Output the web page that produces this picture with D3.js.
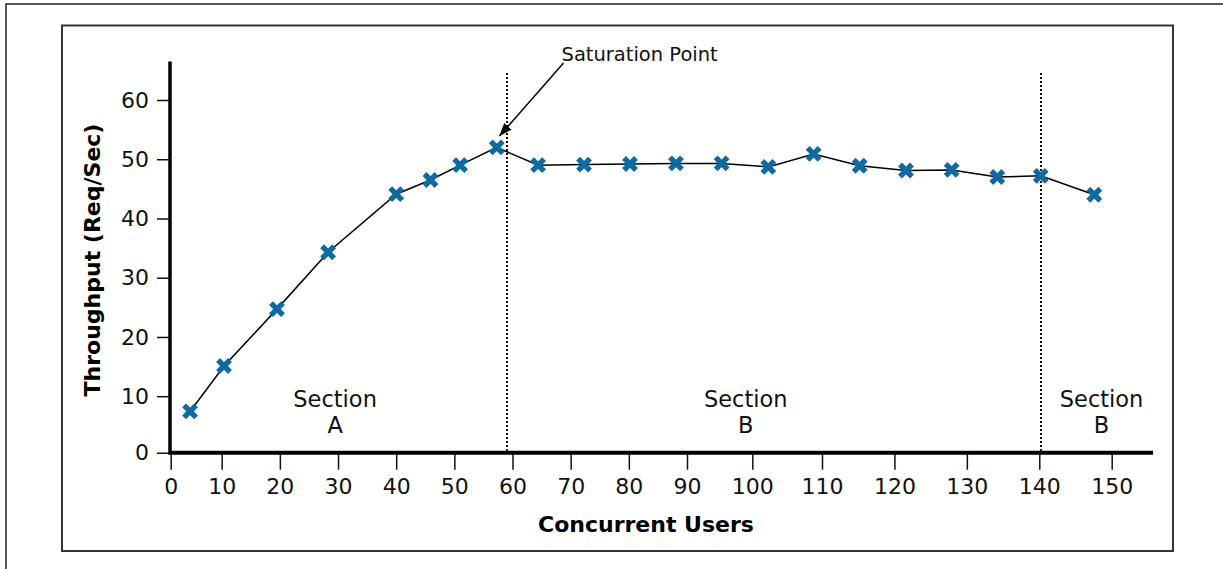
<!DOCTYPE html>
<html>
<head>
<meta charset="utf-8">
<script src="https://cdn.jsdelivr.net/npm/d3@7"></script>
<style>
  body { margin: 0; background: #fff; }
  svg { display: block; font-family: "DejaVu Sans", Verdana, sans-serif; }
</style>
</head>
<body>
<div id="chart"></div>
<script>
const users = [3.8, 10.4, 19.5, 28.3, 40.0, 45.9, 51.0, 57.3, 64.4, 72.3, 80.2, 88.1, 95.3, 102.3, 108.8, 115.2, 121.6, 127.9, 134.2, 140.2, 147.6];
const throughput = [7.3, 15.1, 24.7, 34.3, 44.1, 46.5, 49.0, 52.0, 49.0, 49.1, 49.2, 49.3, 49.3, 48.7, 50.9, 48.9, 48.1, 48.2, 47.0, 47.2, 44.0];
const xTicks = [0, 10, 20, 30, 40, 50, 60, 70, 80, 90, 100, 110, 120, 130, 140, 150];
const yTicks = [0, 10, 20, 30, 40, 50, 60];
const sectionLines = [59, 140.2];
const sectionX = [29.5, 99, 148.6];
const sectionNames = ["A", "B", "B"];
const saturationIndex = 7;

const width = 1223, height = 569;
const blue = "#0e6aa0";

const svg = d3.select("#chart").append("svg")
  .attr("width", width)
  .attr("height", height);

// frames
svg.append("rect")
  .attr("x", 6).attr("y", 4)
  .attr("width", 1400).attr("height", 800)
  .attr("fill", "none").attr("stroke", "#222").attr("stroke-width", 1.5);

svg.append("rect")
  .attr("x", 62).attr("y", 25.5)
  .attr("width", 1111).attr("height", 525.5)
  .attr("fill", "#fff").attr("stroke", "#333").attr("stroke-width", 2);

// the original axis is hand spaced, so the scale is piecewise
const x = d3.scaleLinear()
  .domain([0, 10, 90, 100, 110, 150])
  .range([170.7, 221.7, 687, 752.3, 822, 1111.7]);

const y = d3.scaleLinear()
  .domain([0, 10, 60])
  .range([452.7, 396.2, 100]);

const axisY = 452.7, axisX = 170;

// x axis
const gx = svg.append("g")
  .attr("transform", `translate(0,${axisY})`)
  .call(d3.axisBottom(x).tickValues(xTicks).tickSize(17).tickPadding(9));
gx.select(".domain").remove();
gx.selectAll(".tick line").attr("stroke", "#111").attr("stroke-width", 1.5);
gx.selectAll(".tick text")
  .attr("font-size", 22)
  .attr("font-family", "DejaVu Sans, Verdana, sans-serif")
  .attr("fill", "#111");

// y axis
const gy = svg.append("g")
  .attr("transform", `translate(${axisX},0)`)
  .call(d3.axisLeft(y).tickValues(yTicks).tickSize(13).tickPadding(8));
gy.select(".domain").remove();
gy.selectAll(".tick line").attr("stroke", "#111").attr("stroke-width", 1.5);
gy.selectAll(".tick text")
  .attr("font-size", 22)
  .attr("font-family", "DejaVu Sans, Verdana, sans-serif")
  .attr("fill", "#111");

// heavy axis lines
svg.append("line")
  .attr("x1", axisX).attr("x2", 1153)
  .attr("y1", axisY).attr("y2", axisY)
  .attr("stroke", "#000").attr("stroke-width", 4);
svg.append("line")
  .attr("x1", axisX).attr("x2", axisX)
  .attr("y1", 61.5).attr("y2", axisY + 2)
  .attr("stroke", "#000").attr("stroke-width", 3.5);

// axis titles
svg.append("text")
  .attr("x", 646).attr("y", 531.5)
  .attr("text-anchor", "middle")
  .attr("font-size", 22).attr("font-weight", "bold")
  .text("Concurrent Users");

svg.append("text")
  .attr("transform", "translate(100,260) rotate(-90)")
  .attr("text-anchor", "middle")
  .attr("font-size", 22).attr("font-weight", "bold")
  .text("Throughput (Req/Sec)");

// section dividers
svg.selectAll(".divider")
  .data(sectionLines)
  .enter().append("line")
  .attr("class", "divider")
  .attr("x1", d => Math.round(x(d))).attr("x2", d => Math.round(x(d)))
  .attr("y1", Math.round(y(64.6))).attr("y2", axisY - 2)
  .attr("stroke", "#111").attr("stroke-width", 2)
  .attr("stroke-dasharray", "2,2");

// section labels
const labels = svg.selectAll(".section")
  .data(sectionX)
  .enter().append("text")
  .attr("class", "section")
  .attr("text-anchor", "middle")
  .attr("font-size", 22.5)
  .attr("fill", "#111");
labels.append("tspan")
  .attr("x", d => x(d)).attr("y", 406.5)
  .text("Section");
labels.append("tspan")
  .attr("x", d => x(d)).attr("y", 433.3)
  .text((d, i) => sectionNames[i]);

// data line
const points = users.map((u, i) => [u, throughput[i]]);
svg.append("path")
  .datum(points)
  .attr("fill", "none")
  .attr("stroke", "#000")
  .attr("stroke-width", 1.5)
  .attr("d", d3.line().x(d => x(d[0])).y(d => y(d[1])));

// X markers
const r = 6;
svg.selectAll(".mark")
  .data(points)
  .enter().append("path")
  .attr("class", "mark")
  .attr("transform", d => `translate(${x(d[0])},${y(d[1])})`)
  .attr("d", `M${-r},${-r}L${r},${r}M${-r},${r}L${r},${-r}`)
  .attr("stroke", blue)
  .attr("stroke-width", 5.4)
  .attr("fill", "none");

// saturation annotation
svg.append("defs").append("marker")
  .attr("id", "arrow")
  .attr("markerUnits", "userSpaceOnUse")
  .attr("markerWidth", 14).attr("markerHeight", 10)
  .attr("refX", 13).attr("refY", 5)
  .attr("orient", "auto")
  .append("path")
  .attr("d", "M0,0L13,5L0,10Z")
  .attr("fill", "#000");

const sx = x(users[saturationIndex]), sy = y(throughput[saturationIndex]);
svg.append("line")
  .attr("x1", 563.5).attr("y1", 63)
  .attr("x2", sx + 2.6).attr("y2", sy - 11.3)
  .attr("stroke", "#000").attr("stroke-width", 1.5)
  .attr("marker-end", "url(#arrow)");

svg.append("text")
  .attr("x", 561.5).attr("y", 61)
  .attr("font-size", 19.5)
  .attr("fill", "#111")
  .text("Saturation Point");
</script>
</body>
</html>
